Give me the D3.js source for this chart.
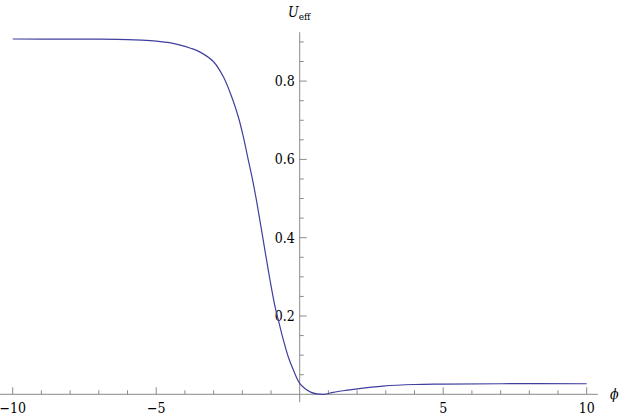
<!doctype html>
<html lang="en">
<head>
  <meta charset="UTF-8">
  <title>U_eff</title>
  <script src="https://d3js.org/d3.v7.min.js"></script>
  <style>
    body { margin: 0; background: #fff; }
  </style>
</head>
<body>
<div class="canvas"></div>
<script>
  // curve (phi, U_eff)
  const phiValues = [-10, -8, -7, -6, -5.5, -5, -4.5, -4.16, -3.8, -3.47, -3.01, -2.66, -2.37, -2.14, -1.965,
    -1.79, -1.64, -1.5, -1.21, -1.035, -0.86, -0.745, -0.57, -0.4, -0.22, 0, 0.18, 0.4, 0.6, 0.85, 1.17,
    1.6, 2.0, 2.9, 4.0, 5.0, 7.0, 10];
  const uValues = [0.9075, 0.9073, 0.907, 0.906, 0.9045, 0.902, 0.8975, 0.892, 0.884, 0.874, 0.850, 0.811, 0.760, 0.709, 0.658,
    0.598, 0.547, 0.493, 0.367, 0.292, 0.224, 0.190, 0.139, 0.096, 0.062, 0.028, 0.015, 0.005, 0.001, 0.0, 0.005,
    0.010, 0.014, 0.021, 0.025, 0.026, 0.027, 0.027];

  const xMajor = [-10, -5, 5, 10];
  const xMinor = d3.range(-10, 11).filter(d => d % 5 !== 0);
  const yMajor = [0.2, 0.4, 0.6, 0.8];
  const yMinor = [0.05, 0.1, 0.15, 0.25, 0.3, 0.35, 0.45, 0.5, 0.55, 0.65, 0.7, 0.75, 0.85, 0.9];

  const width = 623, height = 417;
  const serif = "'DejaVu Serif Condensed', 'DejaVu Serif', serif";
  const x = d3.scaleLinear().domain([-10, 10]).range([12.7, 586.7]);
  const y = d3.scaleLinear().domain([0, 1]).range([394.3, 2.8]);

  const svg = d3.select('.canvas')
    .append('svg')
    .attr('width', width)
    .attr('height', height)
    .attr('font-family', serif);

  const axisColor = '#8a8a8a';

  // x axis
  const gx = svg.append('g').attr('transform', `translate(0,${y(0)})`);
  gx.append('line')
    .attr('x1', x(-10.44)).attr('x2', x(10.39))
    .attr('stroke', axisColor).attr('stroke-width', 1);
  gx.selectAll('.minor')
    .data(xMinor)
    .join('line')
    .attr('x1', d => x(d)).attr('x2', d => x(d))
    .attr('y1', 0).attr('y2', -4)
    .attr('stroke', axisColor);
  gx.selectAll('.major')
    .data(xMajor)
    .join('line')
    .attr('x1', d => x(d)).attr('x2', d => x(d))
    .attr('y1', 0).attr('y2', -7)
    .attr('stroke', axisColor);
  gx.selectAll('text')
    .data(xMajor)
    .join('text')
    .attr('x', d => x(d))
    .attr('y', 19)
    .attr('text-anchor', 'middle')
    .attr('font-size', '14px')
    .text(d => d < 0 ? '\u2212' + Math.abs(d) : d);

  // y axis
  const gy = svg.append('g').attr('transform', `translate(${x(0)},0)`);
  gy.append('line')
    .attr('y1', y(0.925)).attr('y2', y(-0.02))
    .attr('stroke', axisColor).attr('stroke-width', 1);
  gy.selectAll('.minor')
    .data(yMinor)
    .join('line')
    .attr('y1', d => y(d)).attr('y2', d => y(d))
    .attr('x1', 0).attr('x2', 4)
    .attr('stroke', axisColor);
  gy.selectAll('.major')
    .data(yMajor)
    .join('line')
    .attr('y1', d => y(d)).attr('y2', d => y(d))
    .attr('x1', 0).attr('x2', 7)
    .attr('stroke', axisColor);
  gy.selectAll('text')
    .data(yMajor)
    .join('text')
    .attr('x', -5)
    .attr('y', d => y(d))
    .attr('dy', '0.35em')
    .attr('text-anchor', 'end')
    .attr('font-size', '14px')
    .text(d => d.toFixed(1));

  // axis labels
  const ul = svg.append('text')
    .attr('x', 288)
    .attr('y', 17)
    .attr('font-size', '14px');
  ul.append('tspan').attr('font-style', 'italic').text('U');
  ul.append('tspan').attr('font-size', '10px').attr('dy', 3).text('eff');

  svg.append('text')
    .attr('x', 610)
    .attr('y', y(0))
    .attr('dy', '0.35em')
    .attr('font-size', '14px')
    .attr('font-style', 'italic')
    .text('\u03d5');

  // curve
  const pts = phiValues.map((p, i) => [p, uValues[i]]);
  svg.append('path')
    .datum(pts)
    .attr('d', d3.line().x(d => x(d[0])).y(d => y(d[1])).curve(d3.curveCatmullRom.alpha(0.5)))
    .attr('fill', 'none')
    .attr('stroke', '#3f3f9f')
    .attr('stroke-width', 1.2);
</script>
</body>
</html>
